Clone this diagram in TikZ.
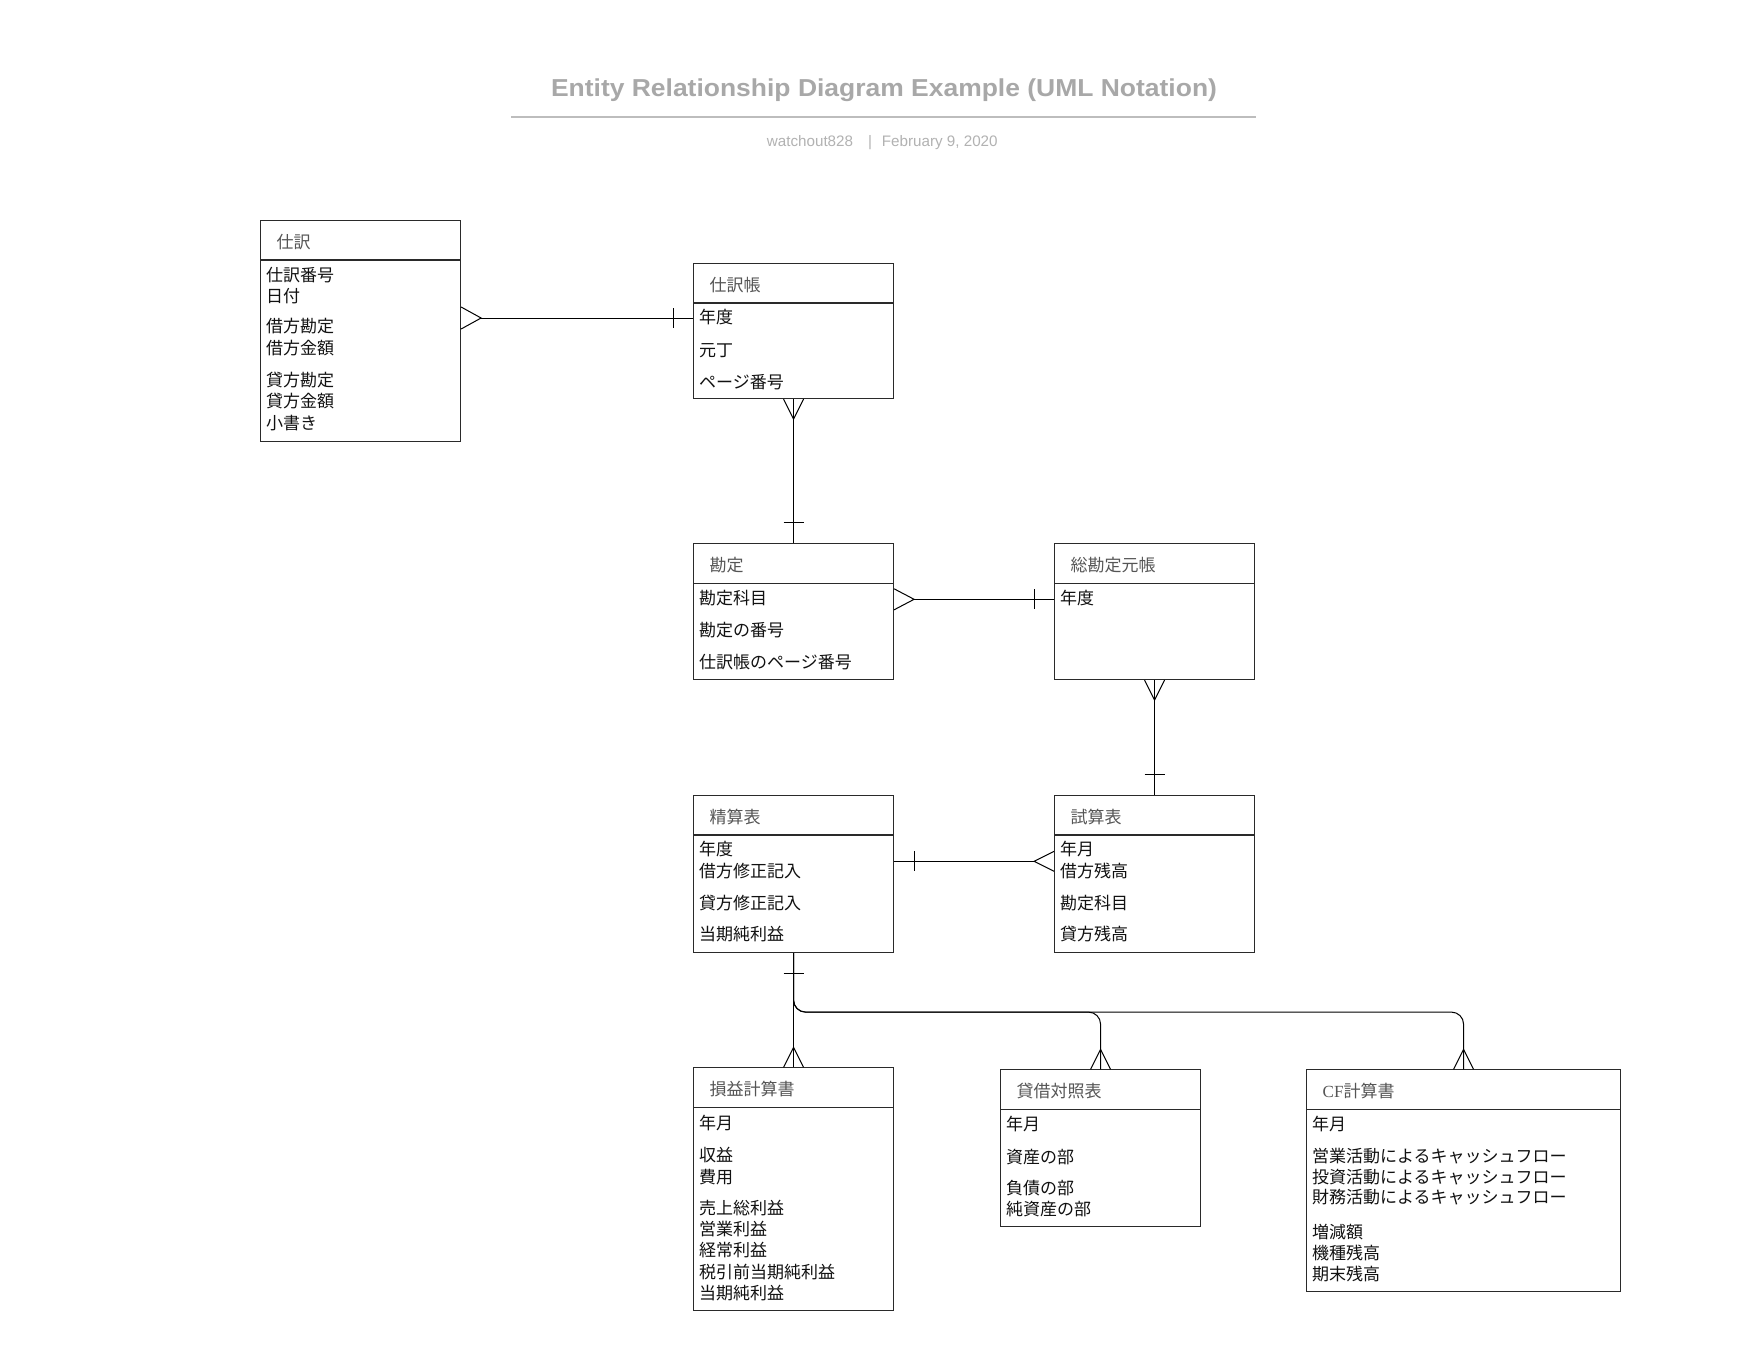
\documentclass[tikz,border=0pt]{standalone}
\usepackage{fontspec}
\setmainfont{Liberation Sans}
\newfontfamily\jpfont{Noto Sans CJK JP}
\newfontfamily\serifcf{Liberation Serif}
\usetikzlibrary{calc}
\definecolor{titlegray}{HTML}{A8A8A8}
\definecolor{subgray}{HTML}{B2B2B2}
\definecolor{rulegray}{HTML}{BDBDBD}
\definecolor{boxline}{HTML}{2A2A2A}
\definecolor{hdrtext}{HTML}{555555}
\definecolor{attrtext}{HTML}{111111}

\newcommand\erbox[6]{%
  \node[ebox, minimum width=#4pt, minimum height=#5pt] (#1) at (#2,#3) {};
  \draw[boxrule] ([yshift=-40pt]#1.north west) -- ([yshift=-40pt]#1.north east);
  \node[hdr] (#1-title) at ($(#1.north west)+(16.5,21.8)$) {#6};
}

\begin{document}
\begin{tikzpicture}[x=1pt,y=-1pt,
  ebox/.style={draw=boxline, fill=white, line width=1.1pt, inner sep=0pt, anchor=north west},
  boxrule/.style={draw=boxline, line width=1.1pt},
  hdr/.style={anchor=west, inner sep=0pt, font=\jpfont\fontsize{17}{20}\selectfont, text=hdrtext, text height=13pt, text depth=0pt},
  attr/.style={anchor=west, inner sep=0pt, font=\jpfont\fontsize{17}{20}\selectfont, text=attrtext, text height=13pt, text depth=0pt},
  rel/.style={draw=black, line width=1pt},
  sub/.style={inner sep=0pt, text=subgray, font=\fontsize{15.2}{18}\selectfont}
]
\useasboundingbox[fill=white] (0,0) rectangle (1760,1360);

% ---- title block
\node[anchor=base, inner sep=0pt, text=titlegray, font=\fontsize{24.5}{28}\selectfont\bfseries] (title) at (884,96.7)
  {\scalebox{1.08}[1]{Entity Relationship Diagram Example (UML Notation)}};
\draw[rulegray, line width=2pt] (511,116.7) -- (1256,116.7);
\node[sub, anchor=base east] (author) at (853.3,146) {watchout828};
\node[sub, anchor=base] (sep) at (870,146) {|};
\node[sub, anchor=base west] (date) at (881.7,146) {February 9, 2020};

% ---- entity boxes
\erbox{shiwake}{260}{220}{200}{221}{仕訳}
\erbox{jcho}{693}{263}{200}{135}{仕訳帳}
\erbox{kanjo}{693}{543.3}{200}{135.7}{勘定}
\erbox{sokanjo}{1054}{543.3}{200}{135.7}{総勘定元帳}
\erbox{seisan}{693}{795}{200}{157}{精算表}
\erbox{shisan}{1054}{795}{200}{157}{試算表}
\erbox{soneki}{693}{1067.3}{200}{242.7}{損益計算書}
\erbox{taishaku}{1000}{1069.3}{200}{157}{貸借対照表}
\erbox{cf}{1306}{1069.3}{314}{221.4}{{\serifcf CF}計算書}

% ---- attributes
\node[attr] (sw1) at (266,275) {仕訳番号};
\node[attr] (sw2) at (266,296) {日付};
\node[attr] (sw3) at (266,326.3) {借方勘定};
\node[attr] (sw4) at (266,348) {借方金額};
\node[attr] (sw5) at (266,379.7) {貸方勘定};
\node[attr] (sw6) at (266,401) {貸方金額};
\node[attr] (sw7) at (266,423) {小書き};

\node[attr] (jc1) at (699,316.7) {年度};
\node[attr] (jc2) at (699,349.5) {元丁};
\node[attr] (jc3) at (699,381.5) {ページ番号};

\node[attr] (kj1) at (699,598.3) {勘定科目};
\node[attr] (kj2) at (699,630) {勘定の番号};
\node[attr] (kj3) at (699,661.7) {仕訳帳のページ番号};

\node[attr] (sk1) at (1060,598.3) {年度};

\node[attr] (ss1) at (699,849.3) {年度};
\node[attr] (ss2) at (699,871) {借方修正記入};
\node[attr] (ss3) at (699,902.7) {貸方修正記入};
\node[attr] (ss4) at (699,934.3) {当期純利益};

\node[attr] (sh1) at (1060,849.3) {年月};
\node[attr] (sh2) at (1060,871) {借方残高};
\node[attr] (sh3) at (1060,902.7) {勘定科目};
\node[attr] (sh4) at (1060,934.3) {貸方残高};

\node[attr] (se1) at (699,1122.7) {年月};
\node[attr] (se2) at (699,1155) {収益};
\node[attr] (se3) at (699,1176.7) {費用};
\node[attr] (se4) at (699,1207.7) {売上総利益};
\node[attr] (se5) at (699,1229) {営業利益};
\node[attr] (se6) at (699,1250) {経常利益};
\node[attr] (se7) at (699,1271.7) {税引前当期純利益};
\node[attr] (se8) at (699,1292.7) {当期純利益};

\node[attr] (tb1) at (1006,1124) {年月};
\node[attr] (tb2) at (1006,1156.7) {資産の部};
\node[attr] (tb3) at (1006,1187.7) {負債の部};
\node[attr] (tb4) at (1006,1209.3) {純資産の部};

\node[attr] (cf1) at (1312,1124) {年月};
\node[attr] (cf2) at (1312,1156) {営業活動によるキャッシュフロー};
\node[attr] (cf3) at (1312,1176.7) {投資活動によるキャッシュフロー};
\node[attr] (cf4) at (1312,1197.3) {財務活動によるキャッシュフロー};
\node[attr] (cf5) at (1312,1231.7) {増減額};
\node[attr] (cf6) at (1312,1252.7) {機種残高};
\node[attr] (cf7) at (1312,1274.3) {期末残高};

% ---- relationships
% 仕訳 (many) -- 仕訳帳 (one)
\coordinate (r1a) at ($(shiwake.north east)+(0,98)$);
\coordinate (r1b) at ($(jcho.north west)+(0,55)$);
\draw[rel] ($(r1a)+(20,0)$) -- (r1b);
\draw[rel] ($(r1a)+(0,-11)$) -- ($(r1a)+(20,0)$) -- ($(r1a)+(0,11)$);
\draw[rel] ($(r1b)+(-20,-10)$) -- ($(r1b)+(-20,10)$);

% 仕訳帳 (many) -- 勘定 (one)
\draw[rel] (jcho.south) -- (kanjo.north);
\draw[rel] ($(jcho.south)+(-10,0)$) -- ($(jcho.south)+(0,20)$) -- ($(jcho.south)+(10,0)$);
\draw[rel] ($(kanjo.north)+(-10,-20.6)$) -- ($(kanjo.north)+(10,-20.6)$);

% 勘定 (many) -- 総勘定元帳 (one)
\coordinate (r3a) at ($(kanjo.north east)+(0,56)$);
\coordinate (r3b) at ($(sokanjo.north west)+(0,56)$);
\draw[rel] ($(r3a)+(20,0)$) -- (r3b);
\draw[rel] ($(r3a)+(0,-10.5)$) -- ($(r3a)+(20,0)$) -- ($(r3a)+(0,10.5)$);
\draw[rel] ($(r3b)+(-20,-10)$) -- ($(r3b)+(-20,10)$);

% 総勘定元帳 (many) -- 試算表 (one)
\draw[rel] (sokanjo.south) -- (shisan.north);
\draw[rel] ($(sokanjo.south)+(-10,0)$) -- ($(sokanjo.south)+(0,20)$) -- ($(sokanjo.south)+(10,0)$);
\draw[rel] ($(shisan.north)+(-10,-21)$) -- ($(shisan.north)+(10,-21)$);

% 精算表 (one) -- 試算表 (many)
\coordinate (r5a) at ($(seisan.north east)+(0,66.3)$);
\coordinate (r5b) at ($(shisan.north west)+(0,66.3)$);
\draw[rel] (r5a) -- ($(r5b)+(-20,0)$);
\draw[rel] ($(r5a)+(20,-10)$) -- ($(r5a)+(20,10)$);
\draw[rel] ($(r5b)+(0,-10)$) -- ($(r5b)+(-20,0)$) -- ($(r5b)+(0,10)$);

% 精算表 (one) -- 損益計算書 / 貸借対照表 / CF計算書 (many)
\coordinate (bus) at ($(seisan.south)+(0,59)$);
\draw[rel] (seisan.south) -- (soneki.north);
\draw[rel, rounded corners=12pt] (seisan.south) |- (taishaku.north |- bus) -- (taishaku.north);
\draw[rel, rounded corners=12pt] (seisan.south) |- (cf.north |- bus) -- (cf.north);
\draw[rel] ($(seisan.south)+(-10,20.6)$) -- ($(seisan.south)+(10,20.6)$);
\draw[rel] ($(soneki.north)+(-10,0)$) -- ($(soneki.north)+(0,-20)$) -- ($(soneki.north)+(10,0)$);
\draw[rel] ($(taishaku.north)+(-10,0)$) -- ($(taishaku.north)+(0,-20)$) -- ($(taishaku.north)+(10,0)$);
\draw[rel] ($(cf.north)+(-10,0)$) -- ($(cf.north)+(0,-20)$) -- ($(cf.north)+(10,0)$);
\end{tikzpicture}
\end{document}
